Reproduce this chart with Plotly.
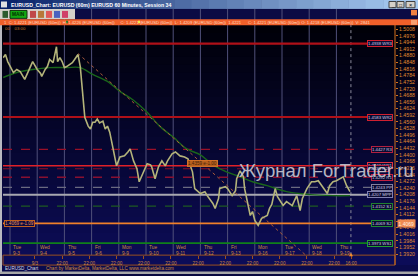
import plotly.graph_objects as go

W, H = 418, 276

# ---------------- data ----------------
hours = [-6, -4, -2, 3, 6, 9, 13, 16, 18, 20, 24, 27, 28, 31, 33, 35, 38, 41, 42, 44,
         46, 48, 50, 53, 55, 57, 60, 62, 64, 65, 66, 69, 71, 73, 75, 77, 79, 82, 84, 86,
         88, 91, 93, 94, 97, 101, 104, 106, 109, 112, 114, 117, 121, 124, 125, 128, 131, 134, 137, 139,
         143, 146, 150, 154, 157, 161, 163, 168, 172, 174, 176, 179, 181, 184, 185, 190, 192, 196, 199, 200,
         203, 206, 207, 210, 212, 214, 216, 219, 222, 227, 229, 231, 234, 236, 241, 244, 249, 253, 256, 258,
         262, 266, 269, 272, 275, 280, 282, 285, 288, 291, 294, 297, 300]
close = [1.4870, 1.4885, 1.4851, 1.4798, 1.4813, 1.4803, 1.4765, 1.4803, 1.4827, 1.4851,
         1.4813, 1.4794, 1.4779, 1.4813, 1.4827, 1.4861, 1.4846, 1.4923, 1.4851, 1.4870,
         1.4851, 1.4822, 1.4827, 1.4837, 1.4846, 1.4861, 1.4885, 1.4827, 1.4683, 1.4635,
         1.4582, 1.4539, 1.4525, 1.4558, 1.4558, 1.4573, 1.4554, 1.4563, 1.4525, 1.4539,
         1.4510, 1.4429, 1.4381, 1.4347, 1.4390, 1.4395, 1.4414, 1.4429, 1.4371, 1.4333,
         1.4270, 1.4309, 1.4357, 1.4352, 1.4342, 1.4285, 1.4342, 1.4371, 1.4347, 1.4371,
         1.4405, 1.4414, 1.4395, 1.4390, 1.4381, 1.4318, 1.4237, 1.4213, 1.4222, 1.4203,
         1.4189, 1.4165, 1.4141, 1.4189, 1.4237, 1.4246, 1.4237, 1.4203, 1.4227, 1.4285,
         1.4323, 1.4294, 1.4237, 1.4165, 1.4107, 1.4126, 1.4083, 1.4059, 1.4093, 1.4107,
         1.4141, 1.4160, 1.4237, 1.4198, 1.4155, 1.4174, 1.4155, 1.4203, 1.4131, 1.4189,
         1.4237, 1.4270, 1.4270, 1.4275, 1.4251, 1.4213, 1.4251, 1.4270, 1.4275, 1.4285,
         1.4294, 1.4251, 1.4222]

ma_hours = [-6, 6, 20, 35, 50, 62, 73, 86, 97, 109, 121, 132, 144, 156, 168, 179, 191, 203,
            214, 227, 244, 265, 285, 300]
ma_values = [1.4774, 1.4798, 1.4813, 1.4822, 1.4822, 1.4822, 1.4789, 1.4755, 1.4707, 1.4664,
             1.4606, 1.4539, 1.4486, 1.4429, 1.4400, 1.4352, 1.4318, 1.4294, 1.4270, 1.4251,
             1.4222, 1.4208, 1.4203, 1.4203]

trend_hours = [60, 261]
trend_values = [1.4890, 1.3915]

level_values = [1.4938, 1.4583, 1.4427, 1.4348, 1.4333, 1.4292, 1.4243, 1.4207, 1.4152, 1.4069, 1.3973]
level_names = ["WR3", "WR2", "R3", "WR1", "R2", "R1", "PP", "MPP", "S1", "S2", "WS1"]

day_names = ["Tue", "Wed", "Thu", "Fri", "Mon", "Tue", "Wed", "Thu", "Fri", "Mon", "Tue", "Wed", "Thu"]
day_dates = ["9-3", "9-4", "9-5", "9-6", "9-9", "9-10", "9-11", "9-12", "9-13", "9-16", "9-17", "9-18", "9-19"]
day_starts = [0, 24, 48, 72, 96, 120, 144, 168, 192, 216, 240, 264, 288]

time_tick_hours = [22, 46, 70, 94, 118, 142, 166, 190, 214, 238, 262, 286, 301]
time_tick_labels = ["9/3", "22:00", "22:00", "22:00", "22:00", "22:00", "22:00", "22:00",
                    "22:00", "22:00", "22:00", "22:00", "16:00"]

price_ticks = [round(1.5008 - 0.0032 * i, 4) for i in range(35)]
now_hour = 300.8
ext_value = 1.4069
ext_label = "1.4069 e-1.09"
box_hour = 156
box_value = 1.4359
box_label = "1.4359 e-1.00"

# ---------------- styles ----------------
level_styles = {
    "WR3": ("#b01018", "solid", 2.2, "#d02030"),
    "WR2": ("#b01018", "solid", 2.2, "#d02030"),
    "R3": ("#9a1028", "dash", 1.2, "#b02040"),
    "WR1": ("#e02028", "solid", 1.5, "#e03040"),
    "R2": ("#8a1028", "dash", 1.2, "#b02040"),
    "R1": ("#8a1030", "dash", 1.5, "#c02040"),
    "PP": ("#6a6a80", "dash", 1.2, "#8080a0"),
    "MPP": ("#a8a8b0", "solid", 2.0, "#8080b0"),
    "S1": ("#1e5a22", "dash", 1.2, "#208030"),
    "S2": ("#f0802a", "solid", 1.6, "#208a30"),
    "WS1": ("#10801a", "solid", 1.8, "#20a030"),
}
# label x-offset (pixels of right edge) so that stacked labels are offset like the reference
label_right = {"R2": 389}

X0, X1 = 3, 395      # plot area pixels
Y0, Y1 = 25, 257
px_per_hour = 27.2 / 24.0
x_range = [(X0 - 10) / px_per_hour, (X1 - 10) / px_per_hour]
y_range = [1.39152, 1.50288]


def px(x):
    return x / W


def py(y):
    return 1 - y / H


def rect(x0, y0, x1, y1, fill, line=None, layer="below"):
    return dict(type="rect", xref="paper", yref="paper", x0=px(x0), x1=px(x1),
                y0=py(y1), y1=py(y0), fillcolor=fill, layer=layer,
                line=dict(width=0) if line is None else dict(color=line, width=1))


def lerp(c0, c1, t):
    return "rgb(%d,%d,%d)" % tuple(round(a + (b - a) * t) for a, b in zip(c0, c1))


shapes = []
annotations = []

# chart background gradient
n = 30
for i in range(n):
    ya = Y0 + (267 - Y0) * i / n
    yb = Y0 + (267 - Y0) * (i + 1) / n + 0.5
    shapes.append(rect(0, ya, W, yb, lerp((0, 0, 8), (12, 12, 88), i / (n - 1))))
shapes.append(rect(0, 9, W, 20, "#0b0b44"))
shapes.append(rect(0, 267, W, 274, "#0a0a4c"))
shapes.append(rect(0, 273.5, W, H, "#a8a8a8"))
shapes.append(rect(0, 20, 2, 274, "#b8b8c0"))

# vertical day grid lines
for d in day_starts:
    shapes.append(dict(type="line", xref="x", yref="paper", x0=d, x1=d, y0=py(257), y1=py(9),
                       line=dict(color="#50507a", width=1), layer="below"))
shapes.append(dict(type="line", xref="x", yref="paper", x0=now_hour, x1=now_hour, y0=py(257), y1=py(25),
                   line=dict(color="#8a8a9a", width=1, dash="dot"), layer="below"))

# level lines
for v, nme in zip(level_values, level_names):
    col, dash, wdt, _ = level_styles[nme]
    shapes.append(dict(type="line", xref="paper", yref="y", x0=px(X0), x1=px(393), y0=v, y1=v,
                       line=dict(color=col, width=wdt, dash=dash), layer="below"))

# time axis frame
shapes.append(rect(X0, 257, X1, 267, "rgba(0,0,0,0)", line="#9a5020"))
shapes.append(dict(type="line", xref="paper", yref="paper", x0=px(X1), x1=px(X1), y0=py(267), y1=py(25),
                   line=dict(color="#d0701e", width=1)))
shapes.append(dict(type="path", xref="paper", yref="paper",
                   path="M %f %f L %f %f L %f %f Z" % (px(349), py(258), px(353), py(258), px(351), py(254.5)),
                   fillcolor="#f08a30", line=dict(width=0)))

# title bar gradient
for i in range(24):
    shapes.append(rect(W * i / 24, 0, W * (i + 1) / 24 + 0.5, 9,
                       lerp((10, 36, 106), (166, 202, 240), i / 23), layer="above"))
for bx in [(389, 396), (397, 404), (406, 415)]:
    shapes.append(rect(bx[0], 1.5, bx[1], 7.8, "#d4d0c8", line="#404040", layer="above"))
shapes.append(rect(1, 1.5, 7, 7.5, "#e0e0e0", layer="above"))

# toolbar
shapes.append(rect(0, 9, 75, 19.5, "#d4d0c8", layer="above"))
shapes.append(rect(2.5, 11, 8, 18, "#2c5a2c", layer="above"))
shapes.append(rect(10, 10.5, 27, 18.5, "#12a812", line="#103010", layer="above"))
for xi, col in zip([30, 38, 46, 54, 62], ["#c04848", "#b87838", "#e05858", "#4a62c0", "#d04068"]):
    shapes.append(rect(xi, 11, xi + 6, 18, col, layer="above"))
shapes.append(rect(411, 10, 417, 15.5, "#f08040", layer="above"))

# orange info bar
shapes.append(rect(0, 19.5, W, 25.5, "#f0602a", layer="above"))
shapes.append(rect(411, 20, 417, 25, "#f8a070", layer="above"))
shapes.append(rect(66, 21, 68, 23.5, "#2a7a2a", layer="above"))
shapes.append(rect(138, 21, 140, 23.5, "#f0f040", layer="above"))

FONT = "Liberation Sans"


def ann(text, x, y, size, color, xanchor="left", yanchor="middle", **kw):
    d = dict(text=text, xref="paper", yref="paper", x=px(x), y=py(y), xanchor=xanchor,
             yanchor=yanchor, showarrow=False, font=dict(family=FONT, size=size, color=color))
    d.update(kw)
    annotations.append(d)


ann("<b>EURUSD_Chart: EURUSD (60m) EURUSD 60 Minutes, Session 34</b>", 9, 4.6, 5.2, "#ffffff")
ann("_", 392.5, 4.6, 5, "#000000", xanchor="center")
ann("□", 400.5, 4.6, 5, "#000000", xanchor="center")
ann("×", 410.5, 4.6, 5.5, "#000000", xanchor="center")
ann("<b>MAIN</b>", 18.5, 14.5, 4.8, "#003000", xanchor="center")
ann("1  C: 1.4221 (EURUSD (60m))  H: 1.4226 (EURUSD (60m))     C: 1.4221 (EURUSD (60m))  L: 1.4209 (EURUSD (60m))  1.4221  "
    "    C: 1.4221 (EURUSD (60m)) O: 1.4218 (EURUSD (60m))  V: 2841",
    2, 22.6, 4.2, "#ffd8c0")
ann("00    03:00", 3, 28.5, 4.3, "#c87830")

# day labels
for d, nm, dt in zip(day_starts, day_names, day_dates):
    annotations.append(dict(text=nm + "<br>" + dt, xref="x", yref="paper", x=d + 1, y=py(252.3),
                            xanchor="left", yanchor="middle", showarrow=False, align="left",
                            font=dict(family=FONT, size=4.8, color="#d08a40")))

# level labels
for v, nme in zip(level_values, level_names):
    _, _, _, bcol = level_styles[nme]
    annotations.append(dict(text="%.4f %s" % (v, nme), xref="paper", yref="y",
                            x=px(label_right.get(nme, 393)), y=v,
                            xanchor="right", yanchor="middle", showarrow=False,
                            font=dict(family=FONT, size=4.3, color="#d0d0e8"),
                            bgcolor="#0a0a30", bordercolor=bcol, borderwidth=1, borderpad=0))
annotations.append(dict(text="%.4f" % ext_value, xref="paper", yref="y", x=px(396.5), y=ext_value,
                        xanchor="left", yanchor="middle", showarrow=False,
                        font=dict(family=FONT, size=5, color="#fff0e0"),
                        bgcolor="#f08a50", borderpad=0.5))
annotations.append(dict(text=ext_label, xref="paper", yref="y", x=px(4), y=ext_value,
                        xanchor="left", yanchor="middle", showarrow=False,
                        font=dict(family=FONT, size=4.6, color="#f09050"),
                        bgcolor="#0a0a40", bordercolor="#c06020", borderwidth=1, borderpad=0))
annotations.append(dict(text=box_label, xref="x", yref="y", x=box_hour, y=box_value,
                        xanchor="left", yanchor="middle", showarrow=False,
                        font=dict(family=FONT, size=4.6, color="#40200a"),
                        bgcolor="#b8601e", bordercolor="#d07028", borderwidth=1, borderpad=0))

# watermark
ann("Журнал ForTrader.ru", 237, 172, 18.5, "#c8c8d2", opacity=0.9)

# status bar
ann("EURUSD_Chart", 3, 270.6, 4.6, "#d8d8e0")
ann("Chart by MarketDelta, MarketDelta, LLC www.marketdelta.com", 44, 270.6, 4.6, "#d08a40")

# ---------------- traces ----------------
fig = go.Figure()
fig.add_trace(go.Scatter(x=ma_hours, y=ma_values, mode="lines", line=dict(color="#1a661a", width=1.4, shape="spline"),
                         hoverinfo="skip"))
fig.add_trace(go.Scatter(x=trend_hours, y=trend_values, mode="lines", line=dict(color="#a85a3a", width=1, dash="dot"),
                         hoverinfo="skip"))
fig.add_trace(go.Scatter(x=hours, y=close, mode="lines", line=dict(color="#b4b47a", width=1.6)))

fig.update_layout(
    width=W, height=H, margin=dict(l=0, r=0, t=0, b=0),
    paper_bgcolor="#0a0a40", plot_bgcolor="rgba(0,0,0,0)",
    showlegend=False, shapes=shapes, annotations=annotations,
    xaxis=dict(domain=[px(X0), px(X1)], range=x_range, showgrid=False, zeroline=False,
               showline=False, tickmode="array", tickvals=time_tick_hours, ticktext=time_tick_labels,
               ticks="outside", ticklen=3, tickcolor="#9a5020", tickwidth=1,
               tickfont=dict(family=FONT, size=4.6, color="#d08a40")),
    yaxis=dict(domain=[py(Y1), py(Y0)], range=y_range, side="right", showgrid=False, zeroline=False,
               showline=False, tickmode="array", tickvals=price_ticks, tickformat=".4f",
               ticks="outside", ticklen=2, tickcolor="#d0701e",
               tickfont=dict(family=FONT, size=5.2, color="#e08a30")),
)

fig.write_html("out.html")
